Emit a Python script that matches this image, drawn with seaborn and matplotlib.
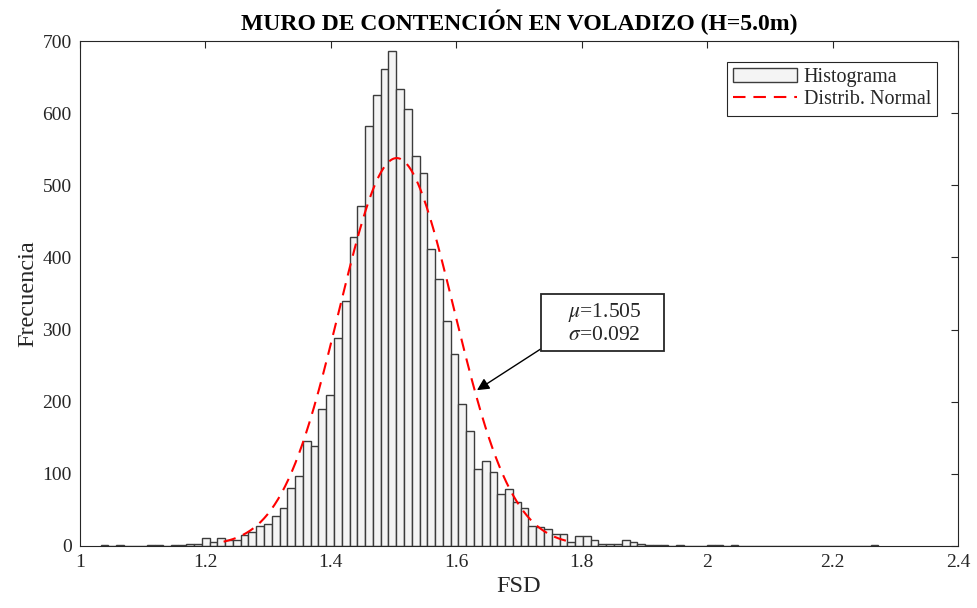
import numpy as np
import pandas as pd
import matplotlib
matplotlib.use("Agg")
import matplotlib.pyplot as plt
import seaborn as sns

# ---------------- data ----------------
bin_start = 1.033
bin_width = 0.0124
counts = [1, 0, 1, 0, 0, 0, 1, 2, 0, 1,
          2, 3, 3, 11, 6, 11, 8, 9, 15, 20,
          28, 31, 42, 52, 81, 97, 145, 138, 190, 209,
          288, 340, 429, 471, 582, 625, 661, 686, 634, 606,
          540, 517, 411, 370, 312, 266, 197, 159, 107, 118,
          102, 72, 79, 61, 52, 28, 27, 24, 17, 17,
          6, 14, 14, 9, 3, 3, 3, 8, 6, 3,
          1, 1, 1, 0, 2, 0, 0, 0, 1, 1,
          0, 2, 0, 0, 0, 0, 0, 0, 0, 0,
          0, 0, 0, 0, 0, 0, 0, 0, 0, 1]
mu = 1.505
sigma = 0.092
n_total = 10000
x_ticks = [1.0, 1.2, 1.4, 1.6, 1.8, 2.0, 2.2, 2.4]
x_tick_labels = ["1", "1.2", "1.4", "1.6", "1.8", "2", "2.2", "2.4"]
y_ticks = [0, 100, 200, 300, 400, 500, 600, 700]

edges = bin_start + bin_width * np.arange(len(counts) + 1)
centers = (edges[:-1] + edges[1:]) / 2
hist_df = pd.DataFrame({"FSD": centers, "count": np.array(counts, dtype=float)})

xs = np.linspace(mu - 3 * sigma, mu + 3 * sigma, 300)
pdf = n_total * bin_width / (sigma * np.sqrt(2 * np.pi)) * np.exp(-0.5 * ((xs - mu) / sigma) ** 2)
curve_df = pd.DataFrame({"FSD": xs, "freq": pdf})

# ---------------- style ----------------
sns.set_style("white")
plt.rcParams["font.family"] = ["Liberation Serif", "DejaVu Serif"]
plt.rcParams["mathtext.fontset"] = "stix"

fig = plt.figure(figsize=(9.78, 6.08), dpi=100)
ax = fig.add_axes([80 / 978, 62 / 608, 878 / 978, 505 / 608])

sns.histplot(data=hist_df, x="FSD", weights="count",
             binwidth=bin_width, binrange=(edges[0], edges[-1]), ax=ax,
             color="#f4f4f4", edgecolor="#3c3c3c", linewidth=1.0, alpha=1.0,
             label="Histograma")
sns.lineplot(data=curve_df, x="FSD", y="freq", ax=ax, color="#ff0000",
             linewidth=1.5, linestyle=(0, (6, 3.8)), label="Distrib. Normal")

ax.set_xlim(1.0, 2.4)
ax.set_ylim(0, 700)
ax.set_xticks(x_ticks)
ax.set_xticklabels(x_tick_labels)
ax.set_yticks(y_ticks)
ax.tick_params(direction="in", top=True, right=True, length=5, width=0.8,
               labelsize=14, colors="#262626", pad=6)
for sp in ax.spines.values():
    sp.set_color("#262626")
    sp.set_linewidth(0.8)

ax.set_xlabel("FSD", fontsize=17.5, color="#262626", labelpad=3)
ax.set_ylabel("Frecuencia", fontsize=17.5, color="#262626", labelpad=3)
ax.set_title("MURO DE CONTENCIÓN EN VOLADIZO (H=5.0m)", fontsize=17,
             fontweight="bold", pad=8, color="black")

handles, labels = ax.get_legend_handles_labels()
order = [labels.index("Histograma"), labels.index("Distrib. Normal")]
leg = ax.legend([handles[i] for i in order], [labels[i] for i in order],
                loc="upper right", bbox_to_anchor=(0.976, 0.958), fontsize=14.5,
                fancybox=False, framealpha=1, edgecolor="#262626",
                handlelength=3.2, borderpad=0.3, labelspacing=0.15,
                handletextpad=0.3, borderaxespad=0)
leg.get_frame().set_linewidth(0.8)

ax.annotate("    " + r"$\mu$=1.505" + "    \n    " + r"$\sigma$=0.092" + "    ",
            xy=(1.633, 216), xytext=(1.833, 309),
            fontsize=15.5, ha="center", va="center", color="#262626",
            linespacing=1.15,
            bbox=dict(boxstyle="square,pad=0.25", fc="white", ec="#262626", lw=1.3),
            arrowprops=dict(arrowstyle="-|>", color="black", lw=1.0,
                            mutation_scale=18, shrinkA=0, shrinkB=0,
                            relpos=(0, 0)))

fig.savefig("out.png", dpi=100)
